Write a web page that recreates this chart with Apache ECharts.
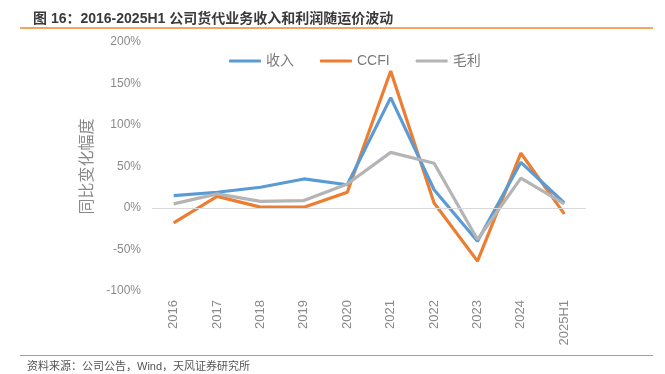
<!DOCTYPE html>
<html><head><meta charset="utf-8">
<script src="https://cdn.jsdelivr.net/npm/echarts@6/dist/echarts.min.js"></script>
<style>html,body{margin:0;padding:0;background:#fff}#c{width:665px;height:374px}</style>
</head><body><div id="c"></div>
<script>
const categories = ['2016','2017','2018','2019','2020','2021','2022','2023','2024','2025H1'];
const revenue = [15, 19, 25, 35, 28, 133, 22, -40, 55, 6];
const ccfi = [-18, 14, 1, 1, 19, 165, 6, -64, 66, -7];
const grossProfit = [5, 17, 8, 9, 29, 67, 54, -38, 36, 5];
const yTicks = [-100, -50, 0, 50, 100, 150, 200];

const chart = echarts.init(document.getElementById('c'), null, {renderer:'canvas'});
const font = '"Liberation Sans","Noto Sans CJK SC",sans-serif';
chart.setOption({
  animation:false,
  textStyle:{fontFamily:font},
  title:{text:'图 16：2016-2025H1 公司货代业务收入和利润随运价波动', left:28, top:7,
    textStyle:{fontSize:14, fontWeight:'bold', color:'#3a3a3a', fontFamily:font}},
  graphic:[
    {type:'line', shape:{x1:20,y1:28,x2:653,y2:28}, style:{stroke:'#F08A24', lineWidth:1.5}},
    {type:'line', shape:{x1:20,y1:355.5,x2:653,y2:355.5}, style:{stroke:'#F08A24', lineWidth:1.2}},
    {type:'text', left:27, top:361, style:{text:'资料来源：公司公告，Wind，天风证券研究所', fill:'#555', font:'11px '+font}}
  ],
  legend:{left:224, top:49, itemWidth:32, itemHeight:3, itemGap:26,
    icon:'roundRect',
    textStyle:{fontSize:14, color:'#7a7a7a', padding:[0,0,0,0]},
    data:['收入','CCFI','毛利']},
  grid:{left:152, right:79, top:42, bottom:83},
  xAxis:{type:'category', data:categories, boundaryGap:true,
    axisLine:{show:false}, axisTick:{show:false},
    axisLabel:{rotate:90, fontSize:13, color:'#8a8a8a', margin:9}},
  yAxis:{type:'value', min:yTicks[0], max:yTicks[yTicks.length-1], interval:50,
    name:'同比变化幅度', nameLocation:'middle', nameGap:52, nameRotate:90,
    nameTextStyle:{fontSize:16, color:'#8a8a8a'},
    axisLine:{show:false}, axisTick:{show:false}, splitLine:{show:false},
    axisLabel:{fontSize:12, color:'#8a8a8a', margin:11, formatter:'{value}%'}},
  series:[
    {name:'收入', type:'line', data:revenue, symbol:'none', lineStyle:{width:3.2, color:'#5B9BD5'}, itemStyle:{color:'#5B9BD5'}, z:3,
     markLine:{silent:true, symbol:'none', label:{show:false}, lineStyle:{color:'#d9d9d9', width:1, type:'solid'}, data:[{yAxis:0}]}},
    {name:'CCFI', type:'line', data:ccfi, symbol:'none', lineStyle:{width:3.2, color:'#ED7D31'}, itemStyle:{color:'#ED7D31'}, z:2},
    {name:'毛利', type:'line', data:grossProfit, symbol:'none', lineStyle:{width:3.2, color:'#B4B4B4'}, itemStyle:{color:'#B4B4B4'}, z:4}
  ]
});
</script></body></html>
